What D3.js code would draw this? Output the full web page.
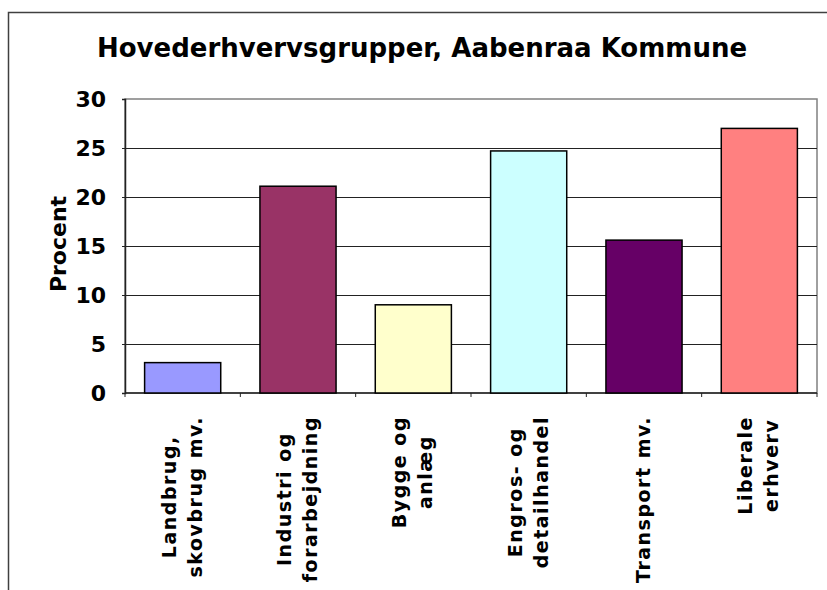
<!DOCTYPE html>
<html>
<head>
<meta charset="utf-8">
<script src="https://cdn.jsdelivr.net/npm/d3@7"></script>
<style>
  body { margin: 0; background: #fff; }
  text { font-family: "DejaVu Sans", Verdana, sans-serif; font-weight: bold; fill: #000; }
</style>
</head>
<body>
<div id="chart"></div>
<script>
// chart data
var categories = ["Landbrug,\nskovbrug mv.", "Industri og\nforarbejdning", "Bygge og\nanlæg",
  "Engros- og\ndetailhandel", "Transport mv.", "Liberale\nerhverv"];
var values = [3.1, 21.1, 9.0, 24.7, 15.6, 27.0];
var colors = ["#9999FF", "#993366", "#FFFFCC", "#CCFFFF", "#660066", "#FF8080"];
var yTicks = [0, 5, 10, 15, 20, 25, 30];

var svgWidth = 827;
var svgHeight = 590;

var margin = { top: 99, right: 10, bottom: 197, left: 125 };
var width = 817 - margin.left;
var height = 393 - margin.top;

var svg = d3.select("#chart").append("svg")
  .attr("width", svgWidth)
  .attr("height", svgHeight);

// outer frame (right and bottom run off the page)
svg.append("path")
  .attr("d", "M8.5,590 V12.5 H827")
  .attr("fill", "none")
  .attr("stroke", "#404040")
  .attr("stroke-width", 1.5);

svg.append("text")
  .attr("x", 422)
  .attr("y", 57)
  .attr("text-anchor", "middle")
  .attr("font-size", "26px")
  .text("Hovederhvervsgrupper, Aabenraa Kommune");

var chartGroup = svg.append("g")
  .attr("transform", `translate(${margin.left}, ${margin.top})`);

var xScale = d3.scaleBand()
  .domain(categories)
  .range([0, width])
  .paddingInner(0.34)
  .paddingOuter(0.17);

var yScale = d3.scaleLinear()
  .domain([0, 30])
  .range([height, 0]);

// plot area
chartGroup.append("rect")
  .attr("width", width)
  .attr("height", height)
  .attr("fill", "#fff")
  .attr("stroke", "#808080")
  .attr("stroke-width", 1.5);

// gridlines
chartGroup.selectAll(".grid")
  .data(yTicks.filter(d => d > 0 && d < 30))
  .enter()
  .append("line")
  .attr("x1", 0)
  .attr("x2", width)
  .attr("y1", d => Math.round(yScale(d)) + 0.5)
  .attr("y2", d => Math.round(yScale(d)) + 0.5)
  .attr("stroke", "#222")
  .attr("stroke-width", 1.2);

// y axis
var leftAxis = d3.axisLeft(yScale).tickValues(yTicks).tickSize(3).tickPadding(16);
var yAxis = chartGroup.append("g").call(leftAxis);
yAxis.select(".domain").attr("stroke", "#222").attr("stroke-width", 1.5);
yAxis.selectAll("line").attr("stroke", "#222");
yAxis.selectAll("text")
  .attr("font-size", "22px")
  .attr("font-family", "DejaVu Sans")
  .attr("font-weight", "bold");

// x axis line + ticks between categories
chartGroup.append("line")
  .attr("x1", 0).attr("x2", width)
  .attr("y1", height).attr("y2", height)
  .attr("stroke", "#222").attr("stroke-width", 1.5);

var step = xScale.step();
chartGroup.selectAll(".xtick")
  .data(d3.range(categories.length + 1))
  .enter()
  .append("line")
  .attr("x1", i => i * step)
  .attr("x2", i => i * step)
  .attr("y1", height)
  .attr("y2", height + 4)
  .attr("stroke", "#222");

// bars
chartGroup.selectAll(".bar")
  .data(values)
  .enter()
  .append("rect")
  .attr("x", (d, i) => xScale(categories[i]))
  .attr("y", d => yScale(d))
  .attr("width", xScale.bandwidth())
  .attr("height", d => height - yScale(d))
  .attr("fill", (d, i) => colors[i])
  .attr("stroke", "#000")
  .attr("stroke-width", 1.5);

// y axis title
chartGroup.append("text")
  .attr("transform", "rotate(-90)")
  .attr("x", -(height / 2) + 2)
  .attr("y", -59)
  .attr("text-anchor", "middle")
  .attr("font-size", "22px")
  .text("Procent");

// category labels, rotated, lines centred, block starting below the axis
var labelTop = 416 - margin.top;
var lineGap = 26;
categories.forEach(function(cat, i) {
  var lines = cat.split("\n");
  var cx = xScale(cat) + xScale.bandwidth() / 2;
  var g = chartGroup.append("g");
  var texts = lines.map(function(line, j) {
    return g.append("text")
      .attr("text-anchor", "middle")
      .attr("font-size", "19px")
      .attr("letter-spacing", "1.5px")
      .text(line);
  });
  var maxLen = d3.max(texts, t => t.node().getComputedTextLength());
  texts.forEach(function(t, j) {
    var off = (j - (lines.length - 1) / 2) * lineGap;
    t.attr("transform", `translate(${cx + off + 6}, ${labelTop + maxLen / 2}) rotate(-90)`);
  });
});
</script>
</body>
</html>
